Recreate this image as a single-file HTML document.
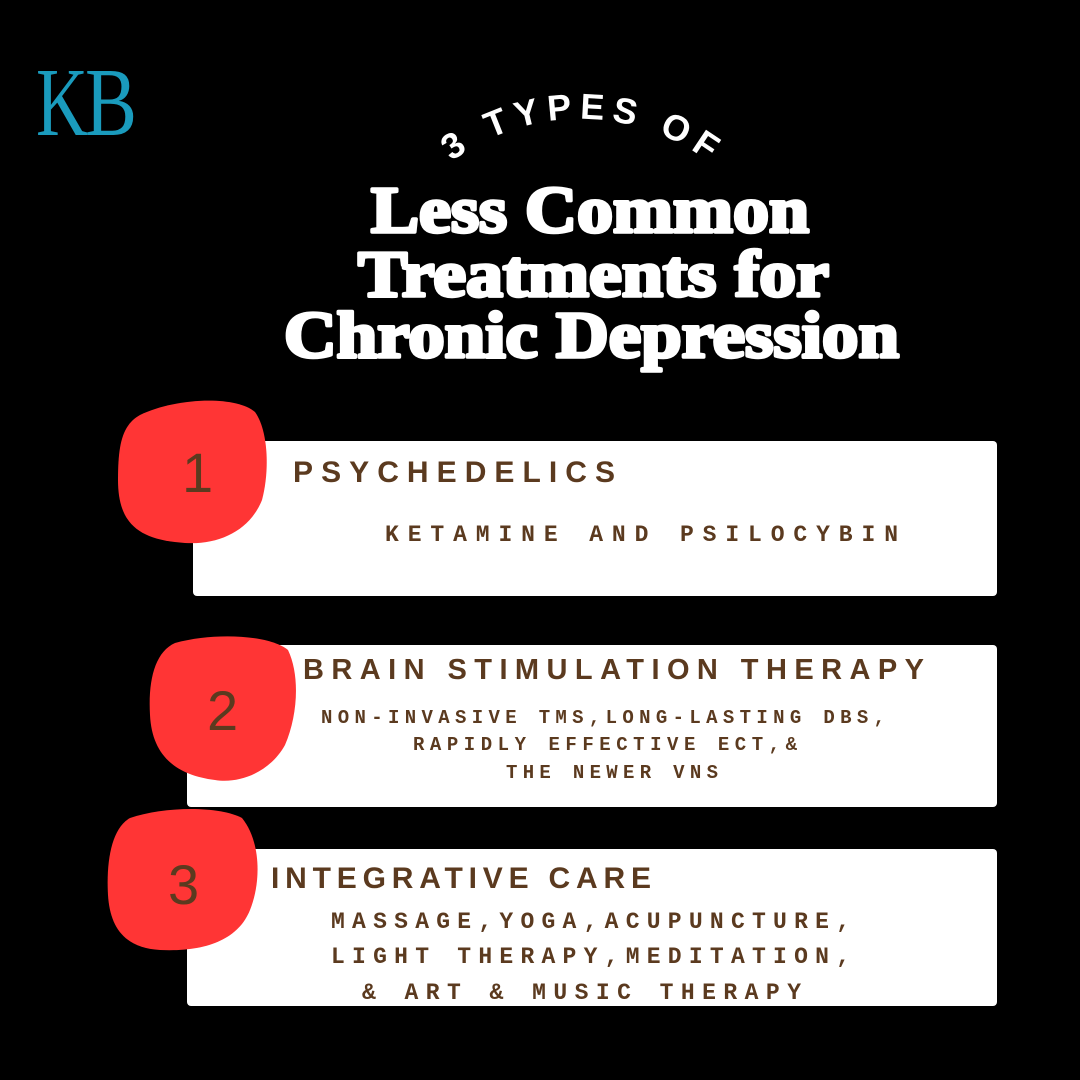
<!DOCTYPE html>
<html><head><meta charset="utf-8"><style>
html,body{margin:0;padding:0;background:#000;width:1080px;height:1080px;overflow:hidden}
svg{display:block}
.h{font-family:"Liberation Sans",sans-serif;font-weight:bold;fill:#5b3a1f}
.m{font-family:"Liberation Mono",monospace;font-weight:bold;fill:#5b3a1f}
.n{font-family:"Liberation Sans",sans-serif;fill:#5b3a1f}
.t{font-family:"Liberation Serif",serif;font-weight:bold;fill:#fff;stroke:#fff;stroke-width:3.5;stroke-linejoin:round}
</style></head><body>
<svg width="1080" height="1080" viewBox="0 0 1080 1080" xmlns="http://www.w3.org/2000/svg">
<rect width="1080" height="1080" fill="#000"/>
<text x="36" y="135" font-family="Liberation Serif,serif" font-size="98" fill="#1a9bbd" textLength="52" lengthAdjust="spacingAndGlyphs">K</text>
<text x="85" y="135" font-family="Liberation Serif,serif" font-size="98" fill="#1a9bbd" textLength="52" lengthAdjust="spacingAndGlyphs">B</text>
<defs><path id="arc" d="M 380 255 A 215 215 0 0 1 780 255"/></defs>
<text font-family="Liberation Sans,sans-serif" font-weight="bold" font-size="36" fill="#fff" text-anchor="middle"><textPath href="#arc" startOffset="50%" textLength="275" lengthAdjust="spacing">3 TYPES OF</textPath></text>
<text class="t" x="371" y="232" font-size="66" textLength="438" lengthAdjust="spacingAndGlyphs">Less Common</text>
<text class="t" x="358" y="296" font-size="66" textLength="471" lengthAdjust="spacingAndGlyphs">Treatments for</text>
<text class="t" x="284" y="357" font-size="66" textLength="615" lengthAdjust="spacingAndGlyphs">Chronic Depression</text>
<rect x="193" y="441" width="804" height="155" rx="4" fill="#fff"/>
<rect x="187" y="645" width="810" height="162" rx="4" fill="#fff"/>
<rect x="187" y="849" width="810" height="157" rx="4" fill="#fff"/>
<path d="M140 415 C175 398 235 395 255 412 C268 430 270 470 262 500 C250 530 220 545 185 543 C140 540 118 525 118 480 C118 445 122 425 140 415 Z" fill="#ff3535"/>
<path d="M175 643 C215 632 270 635 288 650 C300 675 298 715 285 745 C270 772 240 784 215 780 C175 775 152 755 150 715 C148 680 155 652 175 643 Z" fill="#ff3535"/>
<path d="M130 818 C165 806 220 806 242 818 C260 840 262 880 250 910 C238 940 205 952 160 950 C125 948 110 928 108 895 C106 860 112 828 130 818 Z" fill="#ff3535"/>
<text class="n" x="182" y="492" font-size="56">1</text>
<text class="n" x="207" y="730" font-size="56">2</text>
<text class="n" x="168" y="904" font-size="56">3</text>
<text class="h" x="293" y="482" font-size="30" textLength="322" lengthAdjust="spacing">PSYCHEDELICS</text>
<text class="m" x="385" y="541" font-size="23" textLength="513" lengthAdjust="spacing">KETAMINE AND PSILOCYBIN</text>
<text class="h" x="303" y="679" font-size="29" textLength="621" lengthAdjust="spacing">BRAIN STIMULATION THERAPY</text>
<text class="m" x="321" y="723" font-size="19" textLength="564" lengthAdjust="spacing">NON-INVASIVE TMS,LONG-LASTING DBS,</text>
<text class="m" x="413" y="750" font-size="19" textLength="384" lengthAdjust="spacing">RAPIDLY EFFECTIVE ECT,&amp;</text>
<text class="m" x="506" y="778" font-size="19" textLength="212" lengthAdjust="spacing">THE NEWER VNS</text>
<text class="h" x="271" y="888" font-size="30" textLength="380" lengthAdjust="spacing">INTEGRATIVE CARE</text>
<text class="m" x="331" y="928" font-size="23" textLength="519" lengthAdjust="spacing">MASSAGE,YOGA,ACUPUNCTURE,</text>
<text class="m" x="331" y="963" font-size="23" textLength="519" lengthAdjust="spacing">LIGHT THERAPY,MEDITATION,</text>
<text class="m" x="362" y="999" font-size="23" textLength="439" lengthAdjust="spacing">&amp; ART &amp; MUSIC THERAPY</text>
</svg>
</body></html>
